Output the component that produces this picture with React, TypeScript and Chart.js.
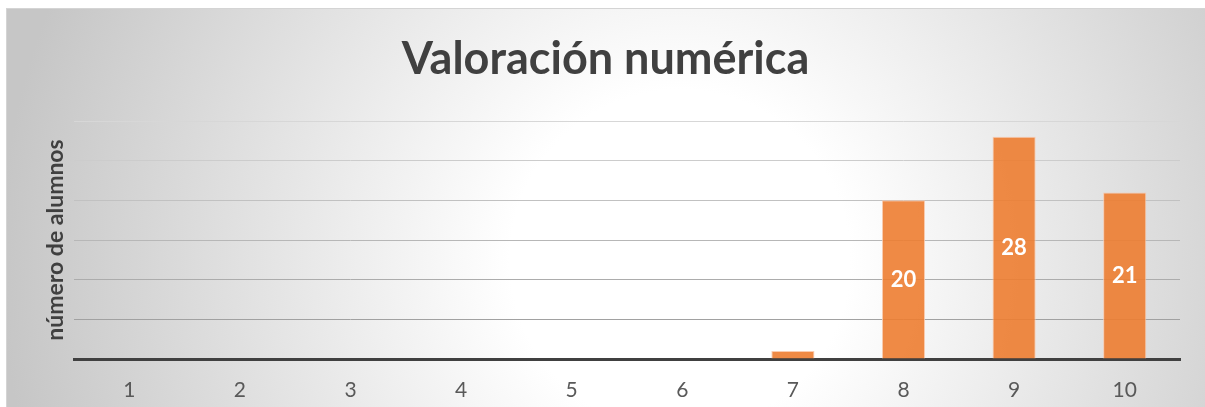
import React, { useEffect, useRef } from 'react';
import { Chart, registerables } from 'chart.js';

Chart.register(...registerables);

const categories = ['1', '2', '3', '4', '5', '6', '7', '8', '9', '10'];
const students = [0, 0, 0, 0, 0, 0, 1, 20, 28, 21];
const yMax = 30;
const yStep = 5;
const chartTitle = 'Valoración numérica';
const yAxisTitle = 'número de alumnos';

const FONT = 'Lato, "Open Sans", sans-serif';
const W = 1199;
const H = 399;

const backgroundPlugin = {
  id: 'bgGradient',
  beforeDraw(chart: any) {
    const { ctx, width, height } = chart;
    ctx.save();
    const g = ctx.createRadialGradient(674, 252, 0, 674, 252, 680);
    g.addColorStop(0, '#ffffff');
    g.addColorStop(0.25, '#ffffff');
    g.addColorStop(1, '#c6c6c6');
    ctx.fillStyle = g;
    ctx.fillRect(0, 0, width, height);
    ctx.strokeStyle = '#d4d4d4';
    ctx.lineWidth = 1;
    ctx.strokeRect(0.5, 0.5, width, height);
    ctx.restore();
  },
};

const labelPlugin = {
  id: 'barLabels',
  afterDatasetsDraw(chart: any) {
    const { ctx } = chart;
    const meta = chart.getDatasetMeta(0);
    ctx.save();
    ctx.font = `bold 22px ${FONT}`;
    ctx.fillStyle = '#ffffff';
    ctx.textAlign = 'center';
    ctx.textBaseline = 'middle';
    meta.data.forEach((bar: any, i: number) => {
      const { x, y, base } = bar.getProps(['x', 'y', 'base'], true);
      if (base - y < 24) return;
      ctx.fillText(String(students[i]), x, (y + base) / 2);
    });
    ctx.restore();
  },
};

export default function App() {
  const ref = useRef<HTMLCanvasElement | null>(null);

  useEffect(() => {
    if (!ref.current) return;
    const chart = new Chart(ref.current, {
      type: 'bar',
      data: {
        labels: categories,
        datasets: [
          {
            data: students,
            backgroundColor: 'rgba(237,125,49,0.9)',
            borderColor: 'rgba(250,200,170,0.9)',
            borderWidth: 1,
            barPercentage: 0.39,
            categoryPercentage: 1,
          },
        ],
      },
      options: {
        responsive: false,
        animation: false,
        devicePixelRatio: 1,
        layout: { padding: 0 },
        plugins: {
          legend: { display: false },
          tooltip: { enabled: false },
          title: {
            display: true,
            text: chartTitle,
            color: '#404040',
            font: { family: FONT, size: 45, weight: 'bold', lineHeight: 1.2 },
            padding: { top: 24, bottom: 35 },
          },
        },
        scales: {
          x: {
            grid: { display: false, drawTicks: false },
            border: { display: true, color: '#404040', width: 3 },
            ticks: {
              color: '#595959',
              font: { family: FONT, size: 21 },
              padding: 19,
            },
            afterFit: (s: any) => {
              s.height = 48;
            },
          },
          y: {
            min: 0,
            max: yMax,
            ticks: { display: false, stepSize: yStep },
            grid: {
              drawTicks: false,
              color: (c: any) => {
                const v = c.tick ? c.tick.value : 0;
                if (v === 0) return 'rgba(0,0,0,0)';
                const t = v / yMax;
                const shade = Math.round(150 + t * (215 - 150));
                return `rgb(${shade},${shade},${shade})`;
              },
            },
            border: { display: false },
            title: {
              display: true,
              text: yAxisTitle,
              color: '#404040',
              font: { family: FONT, size: 23, weight: 'bold', lineHeight: 1.2 },
              padding: { top: 36, bottom: 0 },
            },
            afterFit: (s: any) => {
              s.width = 68;
            },
          },
          yRight: {
            position: 'right',
            min: 0,
            max: yMax,
            ticks: { display: false },
            grid: { display: false, drawTicks: false },
            border: { display: false },
            afterFit: (s: any) => {
              s.width = 25;
            },
          },
        },
      },
      plugins: [backgroundPlugin, labelPlugin],
    });
    return () => chart.destroy();
  }, []);

  return (
    <div style={{ position: 'absolute', left: 6, top: 8, width: W, height: H }}>
      <canvas ref={ref} width={W} height={H} style={{ width: W, height: H, display: 'block' }} />
    </div>
  );
}
